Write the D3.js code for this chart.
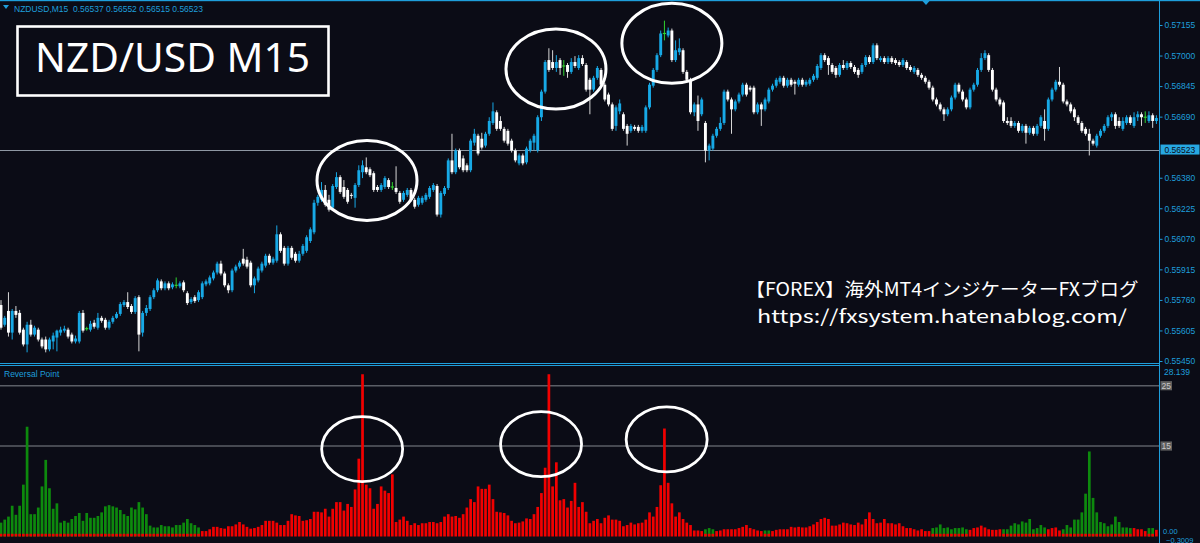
<!DOCTYPE html>
<html><head><meta charset="utf-8">
<script src="https://cdn.jsdelivr.net/npm/d3@7"></script>
<style>html,body{margin:0;padding:0;background:#0b0c16;}svg{display:block;}</style>
</head><body><svg id="c" width="1200" height="543"></svg>
<script>
// ---------------- DATA ----------------
const symbolLabel = "NZDUSD,M15";
const headerOHLC = ["0.56537", "0.56552", "0.56515", "0.56523"];
const titleText = "NZD/USD M15";
const priceTicks = [0.57155, 0.57000, 0.56845, 0.56690, 0.56380, 0.56225, 0.56070, 0.55915, 0.55760, 0.55605, 0.55450];
const bidPrice = 0.56523;
const priceMin = 0.55450, priceMax = 0.57155;
const indName = "Reversal Point";
const indMax = 28.139, indMin = -0.3009;
const indLevels = [25, 15];
const blogLine1 = "【FOREX】海外MT4インジケーターFXブログ";
const blogLine2 = "https://fxsystem.hatenablog.com/";

// OHLC prices in points (price x 100000)
const openPts = [55734,55634,55704,55594,55704,55694,55609,55534,55634,55584,
55609,55559,55559,55509,55549,55569,55594,55604,55609,55584,
55549,55549,55694,55614,55609,55644,55619,55669,55659,55619,
55649,55669,55689,55734,55749,55729,55699,55774,55594,55694,
55714,55774,55809,55854,55819,55844,55824,55834,55829,55849,
55794,55749,55774,55759,55774,55839,55844,55869,55899,55944,
55894,55834,55809,55909,55929,55969,55964,55949,55834,55859,
55909,55934,55984,55949,55959,56093,56024,55944,56024,55994,
55959,55994,56009,56059,56103,56253,56268,56318,56268,56228,
56333,56383,56333,56318,56293,56278,56343,56408,56433,56423,
56403,56333,56318,56333,56368,56333,56328,56303,56268,56293,
56318,56268,56243,56253,56268,56283,56318,56338,56193,56298,
56328,56468,56408,56518,56478,56443,56418,56558,56593,56578,
56543,56603,56658,56712,56668,56628,56618,56568,56518,56453,
56493,56458,56518,56558,56518,56687,56817,56977,56967,56937,
56977,56947,56952,56917,56967,56937,56987,56952,56877,56827,
56887,56927,56852,56802,56752,56643,56717,56702,56643,56618,
56638,56638,56618,56618,56737,56847,56927,57002,57112,57102,
57127,56977,57017,57027,56917,56877,56712,56752,56702,56658,
56518,56528,56593,56628,56658,56817,56777,56727,56767,56802,
56852,56837,56837,56712,56752,56727,56767,56827,56847,56867,
56887,56847,56877,56867,56852,56877,56852,56857,56877,56887,
56937,57002,56987,56952,56937,56902,56952,56937,56962,56942,
56927,56917,56952,56992,56967,57052,56977,56987,56967,56987,
56977,56967,56952,56967,56942,56917,56927,56902,56887,56867,
56837,56777,56752,56727,56702,56727,56787,56852,56817,56777,
56737,56827,56852,56927,56987,57002,56927,56827,56777,56762,
56668,56668,56643,56658,56618,56643,56608,56633,56603,56643,
56668,56628,56777,56827,56867,56852,56767,56752,56727,56687,
56658,56628,56603,56568,56543,56593,56618,56643,56687,56702,
56668,56628,56658,56687,56643,56687,56702,56687,56668,56697,
56668];
const highPts = [55759,55679,55799,55714,55729,55709,55619,55649,55659,55629,
55619,55569,55574,55569,55594,55609,55624,55629,55619,55594,
55579,55704,55709,55624,55654,55659,55694,55679,55669,55659,
55679,55699,55749,55759,55799,55739,55779,55784,55704,55734,
55784,55819,55869,55864,55854,55854,55849,55874,55854,55859,
55804,55774,55784,55809,55854,55864,55884,55909,55954,55959,
55904,55844,55919,55939,55959,56019,55979,55959,55879,55929,
55954,55994,55994,55979,56138,56103,56034,56034,56034,56004,
56009,56044,56088,56128,56268,56293,56358,56343,56293,56348,
56408,56393,56368,56328,56303,56353,56443,56468,56483,56433,
56413,56343,56353,56388,56378,56358,56438,56313,56313,56328,
56328,56278,56288,56288,56303,56338,56353,56348,56313,56338,
56478,56603,56528,56528,56493,56453,56578,56628,56603,56608,
56613,56687,56762,56722,56692,56638,56628,56578,56528,56503,
56503,56538,56578,56603,56697,56827,56977,57037,57027,57002,
56987,56977,56962,56987,56997,57002,57002,56962,56887,56897,
56947,56937,56862,56812,56762,56747,56777,56712,56653,56653,
56648,56648,56648,56747,56862,56937,57012,57127,57177,57142,
57137,57077,57087,57037,56927,56887,56762,56797,56787,56668,
56553,56603,56638,56687,56827,56827,56787,56777,56812,56862,
56862,56847,56847,56762,56762,56787,56837,56857,56887,56897,
56897,56887,56887,56877,56887,56887,56877,56887,56907,56957,
57012,57012,56997,56962,56947,56962,56977,56972,56972,56952,
56937,56962,57002,57002,57062,57062,56997,56997,56997,56997,
56987,56977,56987,56977,56952,56947,56937,56912,56897,56877,
56847,56787,56762,56737,56737,56797,56862,56862,56827,56787,
56837,56862,56937,57012,57027,57012,56937,56837,56787,56772,
56687,56687,56668,56668,56653,56653,56643,56643,56653,56697,
56727,56787,56837,56877,56942,56862,56777,56762,56737,56697,
56668,56638,56628,56578,56603,56628,56653,56697,56712,56712,
56687,56687,56697,56697,56712,56717,56712,56717,56717,56707,
56697];
const lowPts = [55609,55624,55574,55559,55669,55584,55524,55494,55574,55574,
55549,55514,55494,55499,55509,55499,55579,55594,55564,55539,
55539,55539,55594,55604,55599,55614,55609,55644,55609,55609,
55639,55664,55679,55724,55714,55689,55689,55499,55574,55679,
55704,55764,55799,55809,55809,55809,55814,55819,55819,55799,
55734,55739,55744,55749,55764,55829,55834,55859,55889,55884,
55824,55794,55799,55899,55919,55934,55919,55824,55794,55849,
55899,55924,55939,55939,55949,55999,55934,55934,55964,55949,
55949,55984,55999,56049,56093,56238,56258,56233,56208,56218,
56323,56298,56273,56248,56273,56228,56333,56378,56398,56383,
56308,56308,56308,56323,56323,56318,56298,56248,56258,56283,
56258,56223,56233,56243,56258,56273,56308,56183,56178,56288,
56318,56398,56398,56423,56408,56408,56408,56543,56493,56523,
56533,56593,56648,56618,56618,56558,56543,56508,56458,56443,
56443,56448,56508,56518,56508,56668,56807,56917,56927,56917,
56902,56897,56887,56907,56937,56927,56947,56817,56702,56817,
56877,56837,56767,56742,56618,56618,56702,56618,56543,56608,
56618,56608,56608,56608,56727,56837,56917,56992,57077,57092,
56967,56967,57002,56907,56867,56702,56692,56618,56692,56458,
56468,56518,56583,56618,56648,56767,56603,56717,56757,56792,
56792,56817,56702,56702,56643,56717,56757,56817,56837,56857,
56837,56837,56842,56802,56842,56842,56842,56847,56867,56877,
56927,56967,56902,56907,56887,56892,56927,56927,56932,56907,
56887,56907,56942,56957,56957,56977,56967,56957,56957,56957,
56952,56942,56942,56927,56917,56907,56892,56877,56857,56827,
56767,56742,56717,56668,56692,56717,56777,56807,56767,56727,
56727,56817,56842,56917,56977,56917,56817,56767,56742,56658,
56648,56633,56633,56608,56608,56553,56598,56593,56593,56633,
56568,56618,56767,56817,56842,56757,56742,56707,56668,56648,
56608,56593,56493,56543,56533,56583,56608,56633,56668,56628,
56633,56618,56648,56648,56633,56668,56643,56658,56658,56633,
56653];
const closePts = [55619,55669,55594,55704,55684,55594,55534,55634,55584,55619,
55559,55524,55509,55559,55579,55604,55609,55614,55574,55549,
55564,55694,55604,55614,55639,55624,55669,55654,55619,55649,
55669,55689,55739,55749,55724,55699,55769,55584,55694,55719,
55774,55809,55859,55819,55844,55819,55839,55834,55844,55809,
55744,55764,55754,55799,55844,55854,55874,55899,55944,55894,
55834,55809,55909,55929,55949,55944,55929,55834,55869,55919,
55944,55984,55949,55969,56093,56009,55944,56024,55974,55959,
55994,56034,56078,56118,56253,56283,56318,56243,56218,56338,
56383,56308,56283,56258,56288,56343,56418,56443,56408,56393,
56318,56318,56343,56378,56333,56333,56308,56258,56303,56318,
56268,56233,56278,56278,56293,56328,56343,56193,56303,56328,
56468,56408,56518,56433,56418,56418,56568,56603,56503,56533,
56603,56668,56717,56628,56628,56568,56553,56518,56468,56493,
56453,56528,56568,56593,56687,56817,56967,56927,56937,56967,
56937,56947,56917,56967,56947,56987,56957,56827,56827,56887,
56937,56852,56777,56752,56628,56737,56757,56628,56603,56643,
56628,56618,56638,56737,56852,56927,57002,57112,57112,57127,
56977,57027,57037,56917,56877,56712,56752,56668,56777,56518,
56543,56593,56628,56658,56817,56777,56727,56767,56802,56852,
56802,56827,56712,56752,56727,56777,56827,56847,56877,56887,
56847,56877,56852,56857,56877,56852,56867,56877,56897,56947,
57002,56977,56952,56917,56902,56952,56937,56962,56942,56917,
56902,56952,56992,56967,57052,56987,56987,56967,56987,56967,
56962,56952,56977,56937,56927,56937,56902,56887,56867,56837,
56777,56752,56727,56702,56727,56787,56852,56817,56777,56737,
56827,56852,56927,56987,57012,56927,56827,56777,56752,56668,
56658,56643,56658,56618,56643,56608,56633,56603,56643,56687,
56628,56777,56827,56867,56852,56767,56752,56717,56687,56658,
56618,56603,56568,56553,56593,56618,56643,56687,56702,56643,
56643,56668,56687,56658,56687,56702,56687,56687,56697,56668,
56683];

// Reversal Point histogram: positive = bullish (green), negative = bearish (red)
const reversal = [2.3,2.8,3.3,5.1,3.6,5.1,8.6,18.2,3.7,3.7,
4.8,8.3,12.7,8.0,4.6,5.5,2.3,2.6,2.3,2.9,
3.4,3.9,2.6,3.9,3.1,3.1,3.4,4.0,5.0,5.2,
5.0,4.8,4.4,3.7,3.4,4.8,4.5,5.7,4.8,3.7,
1.8,1.5,1.5,1.9,1.7,1.7,1.5,1.9,1.9,2.3,
2.9,2.2,1.9,1.5,-0.9,-0.9,-1.2,-1.6,-1.6,-1.4,
-1.3,-1.7,-1.7,-2.0,-2.4,-2.0,-1.6,-1.3,-1.4,-1.6,
-1.9,-2.6,-2.6,-2.6,-2.3,-1.9,-1.9,-2.6,-3.7,-3.5,
-3.4,
-2.6,-2.7,-2.9,-4.1,-4.1,-4.0,-4.6,-3.3,-4.6,-5.7,
-5.7,-4.3,-5.4,-4.9,-7.8,-12.9,-26.9,-8.6,-8.0,-4.6,
-5.4,-8.3,-7.6,-7.2,-10.3,-2.4,-2.8,-3.3,-2.6,-1.9,
-2.2,-1.9,-2.2,-2.2,-2.4,-2.4,-2.2,-2.4,-3.3,-3.7,
-3.3,-3.4,-3.1,-3.7,-4.8,-6.2,-5.7,-8.3,-7.9,-7.9,
-8.6,-6.2,-4.1,-4.0,-3.9,-3.5,-2.6,-2.2,-2.3,-2.5,
-3.0,-2.9,-3.7,-4.9,-7.2,-11.4,-26.9,-8.3,-12.3,-6.0,
-6.2,-4.8,-5.9,-8.9,-4.9,-5.7,-4.1,-2.2,-2.6,-2.9,
-2.2,-3.1,-3.5,-2.8,-2.8,-2.6,-1.7,-1.9,-2.3,-2.0,
-2.2,-2.3,-2.8,-4.0,-3.3,-4.9,-8.5,-17.9,-8.9,-5.5,
-3.3,-4.0,-2.9,-2.3,-1.9,-1.0,-1.0,-0.9,1.2,1.4,
1.2,-0.9,-1.0,-1.2,-1.2,-1.2,-1.2,-1.4,-1.6,-1.9,
-1.4,-1.2,-1.0,-0.9,1.0,1.0,-0.9,-1.1,-1.2,-1.2,
-1.2,-1.6,-1.5,-1.6,-1.5,-1.5,-1.7,-2.0,-2.4,-2.9,
-3.1,-2.9,-1.8,-1.8,-2.0,-2.3,-2.2,-2.0,-1.9,-2.3,
-2.0,-2.9,-4.0,-2.9,-2.2,-2.3,-2.9,-2.2,-2.2,-2.0,
-2.2,-1.7,-1.4,-1.4,-1.2,-1.0,-1.2,-0.9,-0.9,1.4,
1.5,2.0,1.4,1.5,1.2,1.4,1.4,1.5,1.2,-1.1,
-1.4,-1.5,-1.8,-1.5,-1.2,-1.1,-1.1,-1.2,1.2,1.2,
1.8,2.2,2.0,2.5,2.3,2.9,1.2,1.4,1.9,1.5,
-1.2,-1.4,-1.5,-1.0,1.2,1.9,1.5,2.8,2.8,4.0,
7.1,14.1,6.4,4.0,2.4,2.2,1.7,2.0,3.3,2.4,
1.5,1.5,1.4,-1.4,-1.2,-1.2,-0.9,1.4,1.4,-1.1];

// hand-drawn circle annotations (bar index, price / indicator value)
const priceCircleBars = [98.2, 148.9, 180.0];
const priceCirclePrices = [0.56366, 0.56932, 0.57062];
const indCircleBars = [96.9, 144.9, 178.6];
const indCircleValues = [14.5, 15.3, 16.1];

// ---------------- STYLE ----------------
const BG = "#0b0c16", CYAN = "#1e9edb", BULL = "#17a9e6", BEAR = "#ffffff", DOJI = "#2fd22f";
const GREEN = "#0d8a0d", RED = "#f20000";
const AXIS_FONT = '"Liberation Sans", Arial, sans-serif';

const svg = d3.select("#c");
svg.append("rect").attr("width", 1200).attr("height", 543).attr("fill", BG);

const defs = svg.append("defs");
defs.append("clipPath").attr("id", "mainClip").append("rect").attr("x", 0).attr("y", 0).attr("width", 1159).attr("height", 363);
defs.append("clipPath").attr("id", "indClip").append("rect").attr("x", 0).attr("y", 366).attr("width", 1159).attr("height", 177);

const N = closePts.length;
const x = d3.scaleLinear().domain([0, N - 1]).range([1, 1156.4]);
const y = d3.scaleLinear().domain([priceMin, priceMax]).range([361, 25]);
const yi = d3.scaleLinear().domain([0, 25]).range([536.5, 385.7]);

// ---- bid line ----
svg.append("line").attr("x1", 0).attr("x2", 1159).attr("y1", Math.round(y(bidPrice)) + 0.5).attr("y2", Math.round(y(bidPrice)) + 0.5)
  .attr("stroke", "#8f98a3").attr("stroke-width", 1);

// ---- candles ----
const bars = d3.range(N).map(i => ({ i, o: openPts[i] / 1e5, h: highPts[i] / 1e5, l: lowPts[i] / 1e5, c: closePts[i] / 1e5 }));
const colorOf = d => d.c > d.o ? BULL : (d.c < d.o ? BEAR : DOJI);
const wickOf = d => d.c > d.o ? BULL : (d.c < d.o ? "#d6d6d6" : DOJI);
const gMain = svg.append("g").attr("clip-path", "url(#mainClip)");
gMain.selectAll("line.wick").data(bars).join("line").attr("class", "wick")
  .attr("x1", d => x(d.i)).attr("x2", d => x(d.i))
  .attr("y1", d => y(d.h)).attr("y2", d => y(d.l))
  .attr("stroke", wickOf).attr("stroke-width", 1);
gMain.selectAll("rect.body").data(bars.filter(d => d.o !== d.c)).join("rect").attr("class", "body")
  .attr("x", d => x(d.i) - 1.45).attr("width", 2.9)
  .attr("y", d => y(Math.max(d.o, d.c)))
  .attr("height", d => Math.max(1, Math.abs(y(d.o) - y(d.c))))
  .attr("fill", colorOf);
gMain.selectAll("line.doji").data(bars.filter(d => d.o === d.c)).join("line").attr("class", "doji")
  .attr("x1", d => x(d.i) - 1.6).attr("x2", d => x(d.i) + 1.6)
  .attr("y1", d => y(d.o)).attr("y2", d => y(d.o))
  .attr("stroke", DOJI).attr("stroke-width", 1.2);

// ---- top border, header ----
svg.append("rect").attr("x", 0).attr("y", 0).attr("width", 1200).attr("height", 1.2).attr("fill", CYAN);
svg.append("path").attr("d", "M3,5 L9,5 L6,9 Z").attr("fill", CYAN);
svg.append("path").attr("d", "M922.5,1 L929.5,1 L926,5 Z").attr("fill", CYAN);
svg.append("text").attr("x", 14).attr("y", 11.5)
  .style("font-family", AXIS_FONT).style("font-size", "8.5px").attr("fill", CYAN)
  .attr("xml:space", "preserve")
  .text(symbolLabel + "  " + headerOHLC.join(" "));

// ---- title box ----
svg.append("rect").attr("x", 17.5).attr("y", 26.5).attr("width", 311).attr("height", 69)
  .attr("fill", "none").attr("stroke", "#ffffff").attr("stroke-width", 2.6);
svg.append("text").attr("x", 35).attr("y", 72).attr("textLength", 275).attr("lengthAdjust", "spacingAndGlyphs")
  .style("font-family", '"Noto Sans", "Open Sans", sans-serif').style("font-size", "40px").attr("fill", "#ffffff")
  .text(titleText);

// ---- blog text ----
svg.append("text").attr("x", 942).attr("y", 296).attr("text-anchor", "middle")
  .attr("textLength", 393).attr("lengthAdjust", "spacingAndGlyphs")
  .style("font-family", '"Noto Sans CJK JP", sans-serif').style("font-size", "18px").attr("fill", "#ffffff")
  .text(blogLine1);
svg.append("text").attr("x", 942).attr("y", 323).attr("text-anchor", "middle")
  .attr("textLength", 370).attr("lengthAdjust", "spacingAndGlyphs")
  .style("font-family", '"Noto Sans CJK JP", sans-serif').style("font-size", "18px").attr("fill", "#ffffff")
  .text(blogLine2);

// ---- price circles ----
svg.selectAll("ellipse.pc").data(d3.range(priceCircleBars.length)).join("ellipse").attr("class", "pc")
  .attr("cx", k => x(priceCircleBars[k])).attr("cy", k => y(priceCirclePrices[k]))
  .attr("rx", 50).attr("ry", 40).attr("fill", "none").attr("stroke", "#ffffff").attr("stroke-width", 3);

// ---- panel separators ----
svg.append("line").attr("x1", 0).attr("x2", 1159).attr("y1", 363.5).attr("y2", 363.5).attr("stroke", CYAN).attr("stroke-width", 1);
svg.append("line").attr("x1", 0).attr("x2", 1159).attr("y1", 365.5).attr("y2", 365.5).attr("stroke", CYAN).attr("stroke-width", 1);

// ---- indicator levels ----
svg.selectAll("line.lvl").data(indLevels).join("line").attr("class", "lvl")
  .attr("x1", 0).attr("x2", 1159).attr("y1", d => yi(d)).attr("y2", d => yi(d))
  .attr("stroke", "#5b5e66").attr("stroke-width", 1.6);

// ---- indicator histogram ----
const rp = reversal.map((v, i) => ({ i, v }));
const gInd = svg.append("g").attr("clip-path", "url(#indClip)");
gInd.selectAll("rect.rp").data(rp).join("rect").attr("class", "rp")
  .attr("x", d => x(d.i) - 1.35).attr("width", 2.7)
  .attr("y", d => yi(Math.abs(d.v))).attr("height", d => yi(0) - yi(Math.abs(d.v)))
  .attr("fill", d => d.v > 0 ? GREEN : RED);
gInd.selectAll("rect.base").data(rp.filter(d => d.v > 0)).join("rect").attr("class", "base")
  .attr("x", d => x(d.i) - 1.35).attr("width", 2.7)
  .attr("y", yi(0.45)).attr("height", yi(0) - yi(0.45))
  .attr("fill", RED);

svg.append("text").attr("x", 4).attr("y", 377)
  .style("font-family", AXIS_FONT).style("font-size", "8.5px").attr("fill", CYAN).text(indName);

// ---- indicator circles ----
svg.selectAll("ellipse.ic").data(d3.range(indCircleBars.length)).join("ellipse").attr("class", "ic")
  .attr("cx", k => x(indCircleBars[k])).attr("cy", k => yi(indCircleValues[k]))
  .attr("rx", 40.5).attr("ry", 32.5).attr("fill", "none").attr("stroke", "#ffffff").attr("stroke-width", 2.8);

// ---- right price axis ----
svg.append("line").attr("x1", 1159.5).attr("x2", 1159.5).attr("y1", 0).attr("y2", 543).attr("stroke", CYAN).attr("stroke-width", 1);
const axis = d3.axisRight(y).tickValues(priceTicks).tickSize(3).tickPadding(2).tickFormat(d3.format(".5f"));
const ax = svg.append("g").attr("transform", "translate(1159.5,0)").call(axis);
ax.select(".domain").remove();
ax.selectAll("line").attr("stroke", CYAN);
ax.selectAll("text").attr("fill", CYAN).style("font-family", AXIS_FONT).style("font-size", "8.5px");

// current price tag
const by = y(bidPrice);
svg.append("rect").attr("x", 1160.5).attr("y", by - 5).attr("width", 39).attr("height", 10).attr("fill", "#27a8e2");
svg.append("text").attr("x", 1164.5).attr("y", by + 3.2).attr("fill", "#0b0c16")
  .style("font-family", AXIS_FONT).style("font-size", "8.5px").text(d3.format(".5f")(bidPrice));

// ---- indicator axis ----
svg.append("text").attr("x", 1164).attr("y", yi(indMax) + 8.5).attr("fill", CYAN)
  .style("font-family", AXIS_FONT).style("font-size", "8.5px").text(d3.format(".3f")(indMax));
indLevels.forEach(v => {
  svg.append("rect").attr("x", 1160.5).attr("y", yi(v) - 4.6).attr("width", 11.5).attr("height", 9.2).attr("fill", "#5e5e5e");
  svg.append("text").attr("x", 1161.5).attr("y", yi(v) + 3.2).attr("fill", "#c9c9c9")
    .style("font-family", AXIS_FONT).style("font-size", "8.5px").text(v);
});
// zero label and minimum label sit right next to each other at the bottom of the panel
svg.append("text").attr("x", 1163).attr("y", 534).attr("fill", CYAN)
  .style("font-family", AXIS_FONT).style("font-size", "7.5px").text("0.00");
svg.append("text").attr("x", 1166).attr("y", 542.5).attr("fill", CYAN)
  .style("font-family", AXIS_FONT).style("font-size", "7.5px").text(d3.format(".4f")(indMin));
</script></body></html>
